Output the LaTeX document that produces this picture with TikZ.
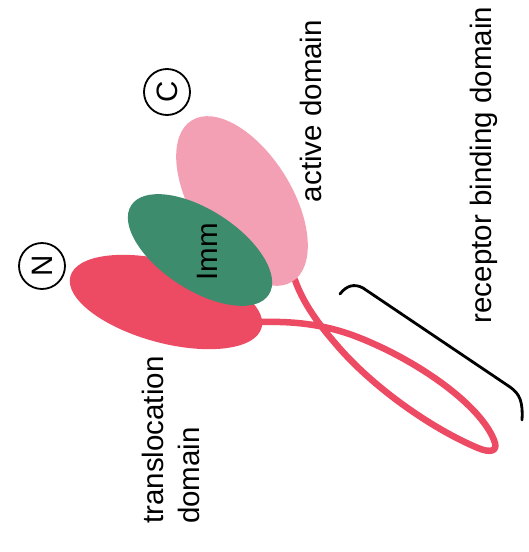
\documentclass[tikz,border=0pt]{standalone}
\usepackage{fontspec}
\setmainfont{Liberation Sans}
\usetikzlibrary{shapes.geometric}
\definecolor{tred}{HTML}{ED4A64}
\definecolor{tpink}{HTML}{F4A0B4}
\definecolor{tgreen}{HTML}{3E8C6E}
\pgfdeclarelayer{bg}
\pgfsetlayers{bg,main}
\begin{document}
\begin{tikzpicture}[x=1pt,y=-1pt,
  dom/.style={ellipse, inner sep=0pt, draw=none},
  lbl/.style={rotate=90, inner sep=0pt, font=\fontsize{29.5}{34}\selectfont},
  term/.style={circle, draw=black, line width=1.8pt, minimum size=46pt, inner sep=0pt, rotate=90, font=\fontsize{29.5}{34}\selectfont},
  chain/.style={draw=tred, line width=6.5pt, line cap=round, line join=round},
  brk/.style={draw=black, line width=2.8pt, line cap=round}]
\useasboundingbox (0,0) rectangle (528,552);
% domains
\node[dom, fill=tred, minimum width=198pt, minimum height=82pt, rotate=-15] (trans) at (166,302) {};
\node[dom, fill=tpink, minimum width=190pt, minimum height=100pt, rotate=-58] (active) at (242,201) {};
\node[dom, fill=tgreen, minimum width=164pt, minimum height=80pt, rotate=-33] (immd) at (200,250) {};
% loop (receptor binding domain)
\begin{pgfonlayer}{bg}
\fill[white] (0,0) rectangle (528,552);
\draw[chain] (trans.center) -- (262,322)
  .. controls (300,321) and (330,326) .. (360,338)
  .. controls (420,362) and (480,405) .. (494,440)
  .. controls (499,452) and (490,453) .. (478,448)
  .. controls (430,428) and (370,385) .. (335,343)
  .. controls (315,320) and (302,300) .. (295,280)
  -- (active.center);
\end{pgfonlayer}
% bracket
\coordinate (bA) at (340,294);
\coordinate (bB) at (522,420);
\draw[brk] (bA) .. controls (346,286) and (354,283) .. (363,288) -- (510,387) .. controls (520,394) and (523,402) .. (bB);
% termini
\node[term] (nterm) at (42,266) {N};
\node[term] (cterm) at (167,92) {C};
% labels
\node[lbl, anchor=base] (imm) at (217,252) {Imm};
\node[lbl, anchor=base] (act) at (321,111) {active domain};
\node[lbl, anchor=base] (rbd) at (491,165) {receptor binding domain};
\node[lbl, anchor=base west] (tl1) at (163,524) {translocation};
\node[lbl, anchor=base west] (tl2) at (199,524) {domain};
\end{tikzpicture}
\end{document}
